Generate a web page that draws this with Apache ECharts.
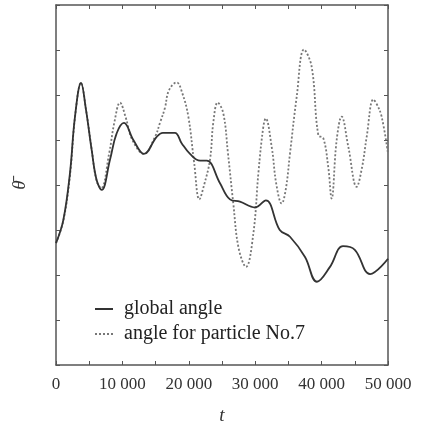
<!DOCTYPE html>
<html><head><meta charset="utf-8">
<script src="https://cdn.jsdelivr.net/npm/echarts@6/dist/echarts.min.js"></script>
<style>html,body{margin:0;padding:0;background:#fff}#c{width:424px;height:423px}</style>
</head><body><div id="c"></div>
<script>
const tGlobal = [0,1100,2100,2860,3765,4520,5370,6120,6880,8130,9140,10240,11650,13250,15160,16100,17900,18920,20180,21700,22700,24700,26200,27700,29970,31600,33700,35240,37500,39300,41260,43220,45000,47300,50000];
const vGlobal = [2.71,3.22,4.26,5.52,6.27,5.67,4.78,4.11,3.89,4.56,5.15,5.38,5.0,4.69,5.07,5.16,5.16,4.93,4.69,4.54,4.54,4.04,3.68,3.63,3.5,3.66,3.0,2.85,2.4,1.85,2.18,2.64,2.56,2.02,2.36];
const tParticle = [0,1100,2100,2860,3765,4520,5370,6100,6800,8000,8800,9640,10500,11500,13250,14900,15700,16400,17000,18170,19000,19930,20800,21590,22300,23190,23700,24350,25200,25900,26700,27500,28610,29720,30500,31220,31580,32480,33200,33990,34600,35240,36250,37350,38500,39500,40260,41000,41510,42270,43020,44020,45280,46100,46790,47790,48300,49040,50000];
const vParticle = [2.71,3.2,4.2,5.5,6.27,5.67,4.8,4.1,3.93,4.7,5.4,5.83,5.5,5.0,4.69,5.07,5.4,5.71,6.1,6.28,6.05,5.52,4.5,3.68,4.0,4.56,5.4,5.83,5.59,4.7,3.59,2.6,2.18,2.92,4.3,5.29,5.48,4.85,4.0,3.59,3.9,4.7,5.96,7.01,6.63,5.11,5.04,4.4,3.7,5.0,5.52,4.85,3.96,4.4,5.07,5.9,5.8,5.52,4.7];
const seriesNames = ['global angle','angle for particle No.7'];
const xTickLabels = {0:'0',10000:'10 000',20000:'20 000',30000:'30 000',40000:'40 000',50000:'50 000'};

const zip = (a,b)=>a.map((x,i)=>[x,b[i]]);
const font = '"Liberation Serif","DejaVu Serif",serif';
const chart = echarts.init(document.getElementById('c'));
const axLine = {show:true,onZero:false,lineStyle:{color:'#555',width:1.5}};
const tick = {show:true,inside:true,length:4,lineStyle:{color:'#555'}};
chart.setOption({
  animation:false,
  grid:{left:56,right:36,top:5,bottom:58,containLabel:false,outerBoundsMode:'none'},
  legend:{
    left:89, top:294, orient:'vertical', itemGap:5, itemWidth:18, itemHeight:12,
    textStyle:{fontFamily:font,fontSize:20,color:'#222',padding:[0,0,0,6]},
    itemStyle:{color:'rgba(0,0,0,0)',borderColor:'rgba(0,0,0,0)',borderWidth:0},
    data:seriesNames
  },
  xAxis:[{
    type:'value',min:0,max:50000,interval:5000,position:'bottom',
    axisLine:axLine,axisTick:tick,splitLine:{show:false},
    axisLabel:{margin:11,fontFamily:font,fontSize:17,color:'#333',showMaxLabel:true,showMinLabel:true,
      formatter:v=>xTickLabels[v]!==undefined?xTickLabels[v]:''},
    name:'t',nameLocation:'middle',nameGap:41,
    nameTextStyle:{fontFamily:font,fontStyle:'italic',fontSize:19,color:'#333'}
  },{
    type:'value',min:0,max:50000,interval:5000,position:'top',
    axisLine:axLine,axisTick:tick,axisLabel:{show:false},splitLine:{show:false}
  }],
  yAxis:[{
    type:'value',min:0,max:8,interval:1,position:'left',
    axisLine:axLine,axisTick:tick,axisLabel:{show:false},splitLine:{show:false},
    name:'θ̄',nameLocation:'middle',nameGap:27,nameRotate:90,
    nameTextStyle:{fontFamily:font,fontStyle:'italic',fontSize:19,color:'#333'}
  },{
    type:'value',min:0,max:8,interval:1,position:'right',
    axisLine:axLine,axisTick:tick,axisLabel:{show:false},splitLine:{show:false}
  }],
  series:[{
    name:seriesNames[1],type:'line',smooth:0.4,symbol:'none',
    data:zip(tParticle,vParticle),
    lineStyle:{color:'#777',width:1.8,type:[2,2]},itemStyle:{color:'#777'},z:2
  },{
    name:seriesNames[0],type:'line',smooth:0.4,symbol:'none',
    data:zip(tGlobal,vGlobal),
    lineStyle:{color:'#333',width:1.8},itemStyle:{color:'#333'},z:3
  }]
});
</script></body></html>
